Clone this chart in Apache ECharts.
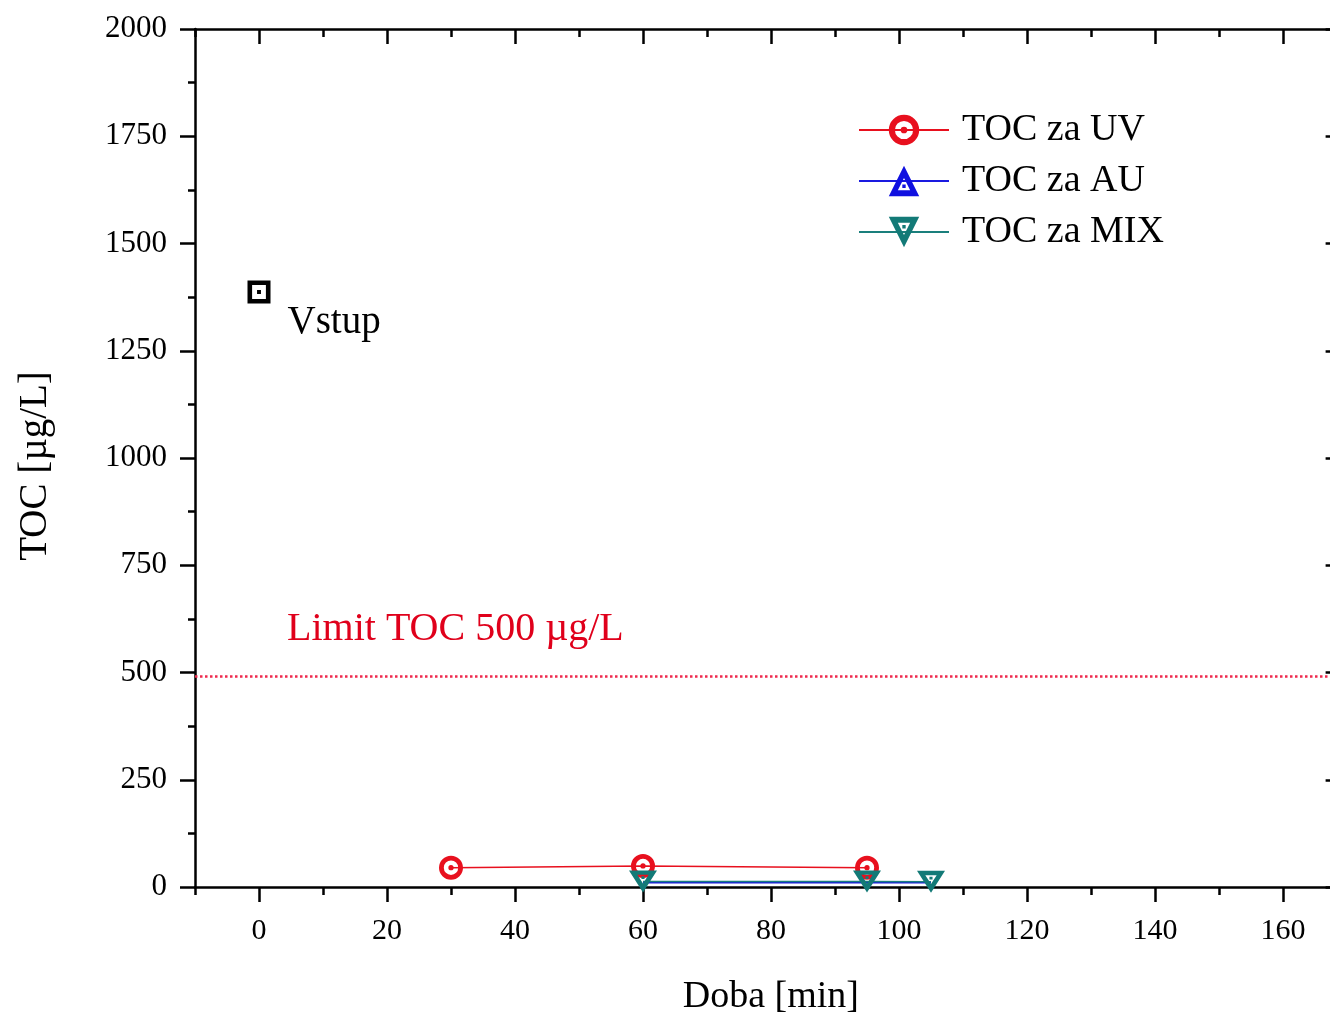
<!DOCTYPE html>
<html>
<head>
<meta charset="utf-8">
<title>TOC</title>
<script src="https://cdn.jsdelivr.net/npm/echarts@6/dist/echarts.min.js"></script>
<style>
  html, body { margin: 0; background: #fff; }
  #chart { width: 1330px; height: 1017px; }
</style>
</head>
<body>
<div id="chart"></div>
<script>
// tick labels
const xTicks = [0, 20, 40, 60, 80, 100, 120, 140, 160];
const yTicks = [0, 250, 500, 750, 1000, 1250, 1500, 1750, 2000];

// data
const inputTime = [0];
const inputToc = [1387];
const uvTime = [30, 60, 95];
const uvToc = [45, 49, 45];
const auTime = [60, 95, 105];
const auToc = [10, 10, 10];
const mixTime = [60, 95, 105];
const mixToc = [13, 13, 12];
const limitToc = 492;

const FONT = '"Liberation Serif", "DejaVu Serif", serif';

// Origin-like open markers with a centre dot
const SYM_CIRCLE = "path://M0,10 A10,10 0 1,1 20,10 A10,10 0 1,1 0,10 Z " +
  "M4,10 A6,6 0 1,0 16,10 A6,6 0 1,0 4,10 Z " +
  "M7.8,10 A2.2,2.2 0 1,1 12.2,10 A2.2,2.2 0 1,1 7.8,10 Z";
const SYM_SQUARE = "path://M0,0 L20,0 L20,20 L0,20 Z M4,4 L4,16 L16,16 L16,4 Z " +
  "M8.3,8.3 L11.7,8.3 L11.7,11.7 L8.3,11.7 Z";
const SYM_UP = "path://M10,0 L20,18 L0,18 Z M10,7.2 L5.95,14.5 L14.05,14.5 Z " +
  "M8.9,11 L11.1,11 L11.1,13.2 L8.9,13.2 Z";
const SYM_DOWN = "path://M0,0 L20,0 L10,18 Z M5.95,3.5 L10,10.8 L14.05,3.5 Z " +
  "M8.9,4.8 L11.1,4.8 L11.1,7 L8.9,7 Z";

function zip(xs, ys) {
  return xs.map((x, i) => [x, ys[i]]);
}

const axisLineStyle = { color: "#000", width: 2.5 };

function xAxisBase(position) {
  return {
    type: "value",
    position,
    min: -10,
    max: 169,
    axisLine: { show: true, onZero: false, lineStyle: axisLineStyle },
    splitLine: { show: false },
  };
}

function yAxisBase(position) {
  return {
    type: "value",
    position,
    min: 0,
    max: 2000,
    interval: 250,
    axisLine: { show: true, onZero: false, lineStyle: axisLineStyle },
    splitLine: { show: false },
    minorSplitLine: { show: false },
    minorTick: { show: true, splitNumber: 2, length: 7, lineStyle: axisLineStyle },
  };
}

const chart = echarts.init(document.getElementById("chart"));

chart.setOption({
  animation: false,
  backgroundColor: "#fff",
  grid: { left: 195, right: -10.6, top: 29, bottom: 130, outerBoundsMode: "none", containLabel: false },
  legend: {
    orient: "vertical",
    left: 853,
    top: 106,
    itemWidth: 90,
    itemHeight: 38,
    itemGap: 13,
    textStyle: { fontFamily: FONT, fontSize: 38, color: "#000", padding: [0, 0, 0, 8] },
    data: ["TOC za UV", "TOC za AU", "TOC za MIX"],
  },
  xAxis: [
    Object.assign(xAxisBase("bottom"), {
      name: "Doba [min]",
      nameLocation: "middle",
      nameGap: 91,
      nameTextStyle: { fontFamily: FONT, fontSize: 38, color: "#000", padding: [0, 0, 0, 6] },
      axisTick: { show: true, length: 15, lineStyle: axisLineStyle, customValues: xTicks },
      axisLabel: {
        fontFamily: FONT, fontSize: 30, color: "#000", margin: 29,
        customValues: xTicks, formatter: (v) => String(v),
      },
    }),
    Object.assign(xAxisBase("bottom"), {
      interval: 10,
      axisLine: { show: false, onZero: false },
      axisTick: { show: true, length: 8, lineStyle: axisLineStyle },
      axisLabel: { show: false },
    }),
    Object.assign(xAxisBase("top"), {
      axisTick: { show: true, inside: true, length: 15, lineStyle: axisLineStyle, customValues: xTicks },
      axisLabel: { show: false },
    }),
    Object.assign(xAxisBase("top"), {
      interval: 10,
      axisLine: { show: false, onZero: false },
      axisTick: { show: true, inside: true, length: 8, lineStyle: axisLineStyle },
      axisLabel: { show: false },
    }),
  ],
  yAxis: [
    Object.assign(yAxisBase("left"), {
      name: "TOC [µg/L]",
      nameLocation: "middle",
      nameGap: 140,
      nameTextStyle: { fontFamily: FONT, fontSize: 39, color: "#000", padding: [0, 16, 0, 0] },
      axisTick: { show: true, length: 15, lineStyle: axisLineStyle },
      axisLabel: {
        fontFamily: FONT, fontSize: 31, color: "#000", margin: 28,
        customValues: yTicks, formatter: (v) => String(v),
      },
    }),
    Object.assign(yAxisBase("right"), {
      axisTick: { show: true, inside: true, length: 15, lineStyle: axisLineStyle },
      axisLabel: { show: false },
    }),
  ],
  series: [
    {
      name: "Vstup",
      type: "scatter",
      data: zip(inputTime, inputToc),
      symbol: SYM_SQUARE,
      symbolSize: 23,
      itemStyle: { color: "#000", borderWidth: 0, opacity: 1 },
      label: {
        show: true,
        formatter: "Vstup",
        position: "right",
        offset: [12, 31],
        fontFamily: FONT,
        fontSize: 39,
        color: "#000",
      },
      markLine: {
        silent: true,
        symbol: ["none", "none"],
        lineStyle: { type: [2.5, 2.5], color: "#ee2a4e", width: 2.5 },
        label: {
          formatter: "Limit TOC 500 µg/L",
          position: "insideStartTop",
          distance: [92, 26],
          fontFamily: FONT,
          fontSize: 40,
          color: "#e0001b",
        },
        data: [{ yAxis: limitToc }],
      },
    },
    {
      name: "TOC za UV",
      type: "line",
      data: zip(uvTime, uvToc),
      symbol: SYM_CIRCLE,
      symbolSize: 24,
      lineStyle: { color: "#e8101e", width: 1.5 },
      itemStyle: { color: "#e8101e", borderWidth: 0 },
    },
    {
      name: "TOC za AU",
      type: "line",
      data: zip(auTime, auToc),
      symbol: SYM_UP,
      symbolSize: [27, 22],
      showSymbol: false,
      lineStyle: { color: "#1a1ae0", width: 1.5 },
      itemStyle: { color: "#1010e0", borderWidth: 0 },
    },
    {
      name: "TOC za MIX",
      type: "line",
      data: zip(mixTime, mixToc),
      symbol: SYM_DOWN,
      symbolSize: [28, 22],
      lineStyle: { color: "#1a7f7c", width: 1.5 },
      itemStyle: { color: "#137a77", borderWidth: 0 },
    },
  ],
});

window.addEventListener("resize", () => chart.resize());
</script>
</body>
</html>
